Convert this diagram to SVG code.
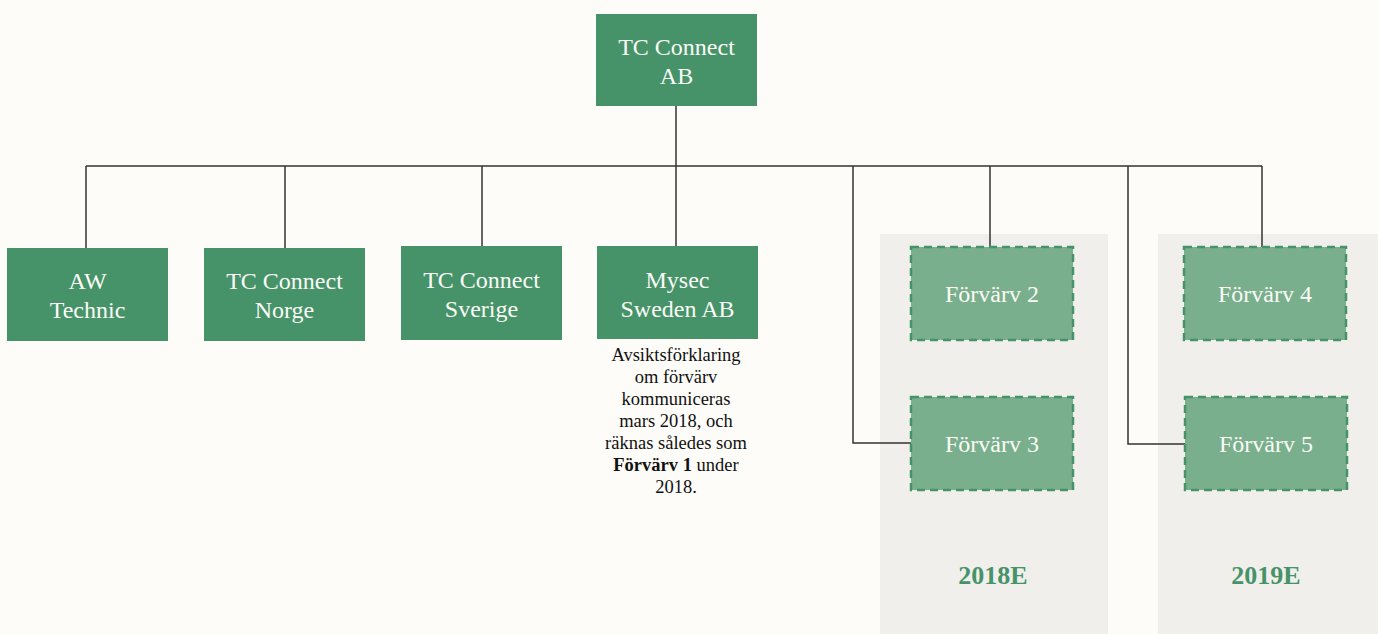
<svg xmlns="http://www.w3.org/2000/svg" width="1378" height="634" viewBox="0 0 1378 634">
<style>
.box{fill:#46936a}
.dbox{fill:#79af8c;stroke:#46936a;stroke-width:2.5;stroke-dasharray:8,5}
.t{font-family:"Liberation Serif",serif;font-size:24px;fill:#fbfbf5;text-anchor:middle}
.n{font-family:"Liberation Serif",serif;font-size:18.5px;fill:#111;text-anchor:middle}
.y{font-family:"Liberation Serif",serif;font-size:26px;font-weight:bold;fill:#46936a;text-anchor:middle}
.c{fill:none;stroke:#333;stroke-width:1.5}
.panel{fill:#f0efeb}
</style>
<rect width="1378" height="634" fill="#fdfcf8"/>
<rect class="panel" x="880" y="234" width="228" height="400"/>
<rect class="panel" x="1158" y="234" width="220" height="400"/>
<g id="connectors">
<path class="c" d="M676 106V166M86 166H1262M86 166V248M285 166V248M482 166V246M676 166V246M853 166V443H911M990 166V247M1128 166V444H1185M1262 166V247"/>
</g>
<g id="tc-connect-ab"><rect class="box" x="596" y="14" width="161" height="92"/><text class="t" x="676.5" y="55">TC Connect</text><text class="t" x="676.5" y="84">AB</text></g>
<g id="aw-technic"><rect class="box" x="7" y="248" width="161" height="93"/><text class="t" x="87.5" y="289">AW</text><text class="t" x="87.5" y="318">Technic</text></g>
<g id="tc-norge"><rect class="box" x="204" y="248" width="161" height="93"/><text class="t" x="284.5" y="289">TC Connect</text><text class="t" x="284.5" y="318">Norge</text></g>
<g id="tc-sverige"><rect class="box" x="401" y="246" width="161" height="94"/><text class="t" x="481.5" y="288">TC Connect</text><text class="t" x="481.5" y="317">Sverige</text></g>
<g id="mysec"><rect class="box" x="597" y="246" width="161" height="93"/><text class="t" x="677.5" y="288">Mysec</text><text class="t" x="677.5" y="317">Sweden AB</text></g>
<g id="note"><text class="n" x="676" y="361">Avsiktsförklaring</text><text class="n" x="676" y="383">om förvärv</text><text class="n" x="676" y="405">kommuniceras</text><text class="n" x="676" y="427">mars 2018, och</text><text class="n" x="676" y="449">räknas således som</text><text class="n" x="676" y="471"><tspan font-weight="bold">Förvärv 1</tspan> under</text><text class="n" x="676" y="493">2018.</text></g>
<g id="forvarv2"><rect class="dbox" x="911" y="247" width="162" height="93"/><text class="t" x="992" y="302">Förvärv 2</text></g>
<g id="forvarv3"><rect class="dbox" x="911" y="397" width="162" height="93"/><text class="t" x="992" y="452">Förvärv 3</text></g>
<g id="forvarv4"><rect class="dbox" x="1184" y="247" width="162" height="93"/><text class="t" x="1265" y="302">Förvärv 4</text></g>
<g id="forvarv5"><rect class="dbox" x="1185" y="397" width="162" height="93"/><text class="t" x="1266" y="452">Förvärv 5</text></g>
<g id="year2018"><text class="y" x="993" y="584">2018E</text></g>
<g id="year2019"><text class="y" x="1266" y="584">2019E</text></g>
</svg>
